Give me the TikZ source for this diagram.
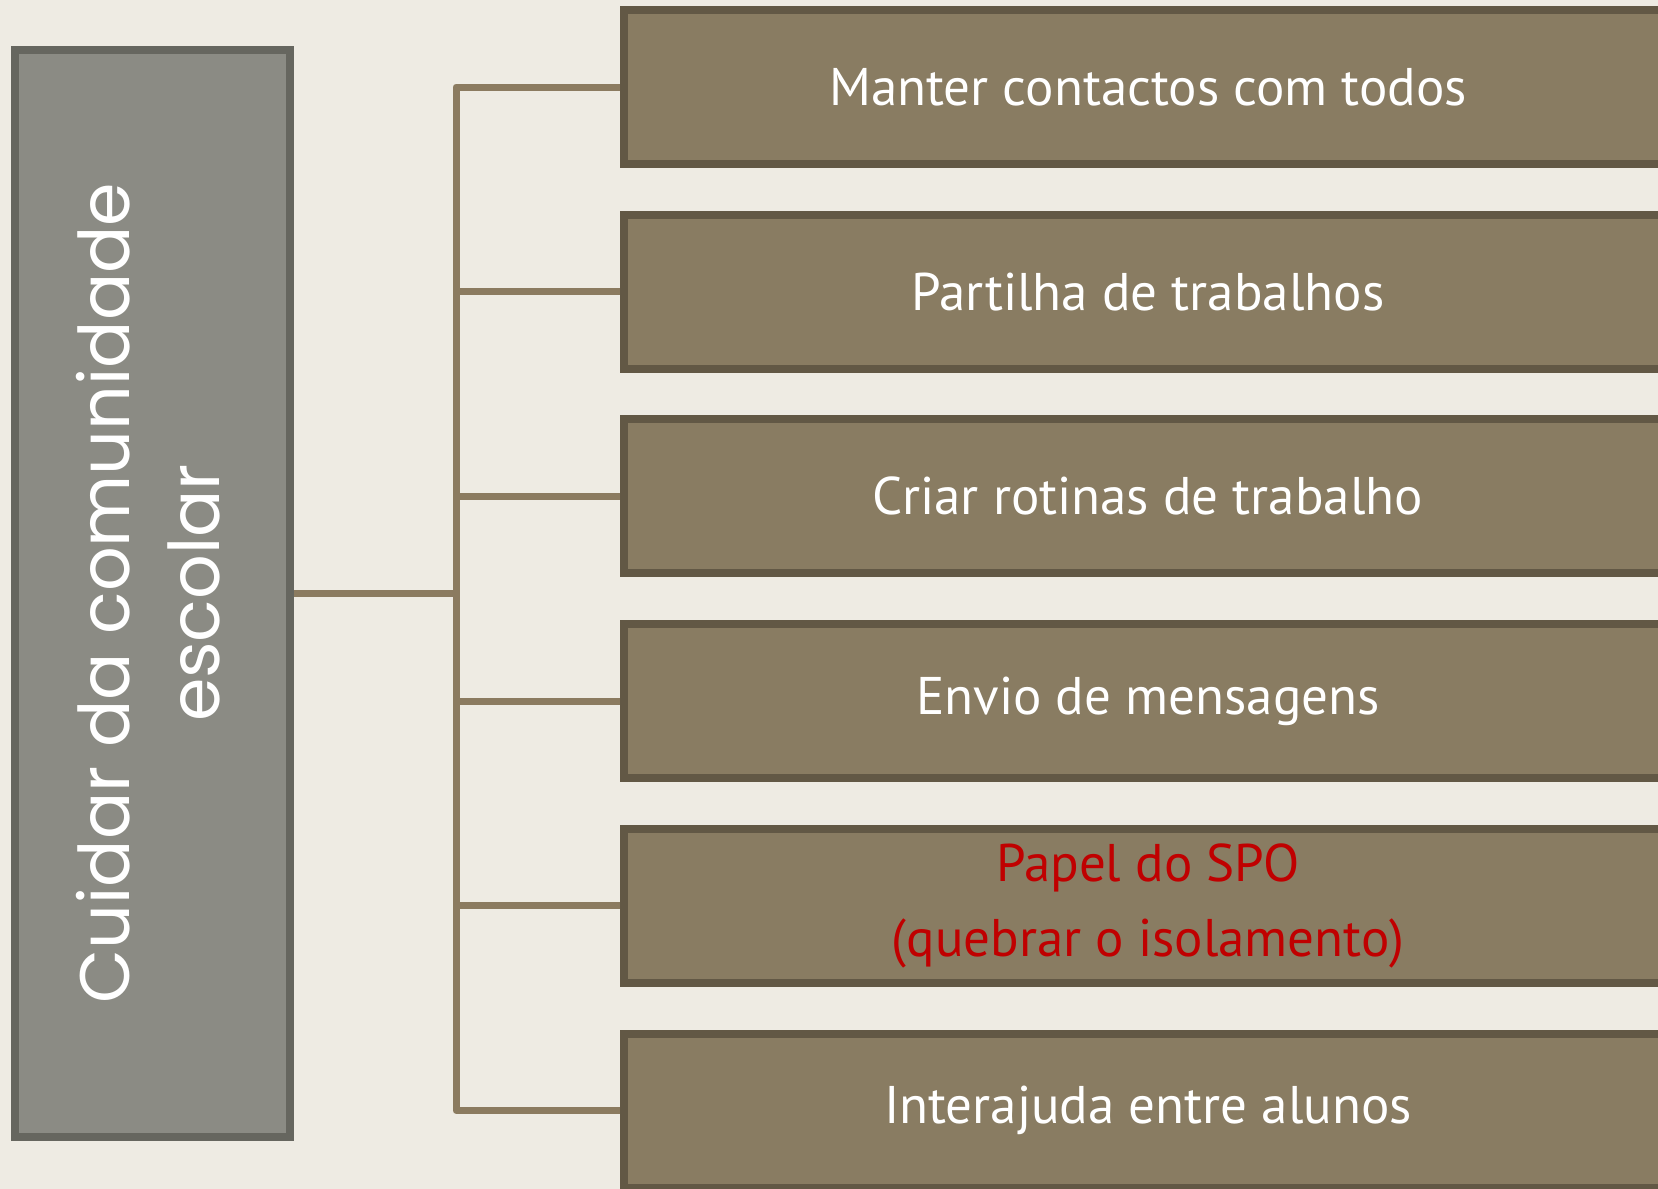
\documentclass[tikz,border=0pt]{standalone}
\usepackage{fontspec}
\setmainfont{PT Sans}
\newfontfamily\topicfont{Poppins}
\usetikzlibrary{positioning}
\definecolor{paper}{HTML}{EEEBE3}
\definecolor{topicfill}{HTML}{8B8B84}
\definecolor{topicline}{HTML}{66665F}
\definecolor{itemfill}{HTML}{897C62}
\definecolor{itemline}{HTML}{625845}
\definecolor{linkcol}{HTML}{8B7B60}
\definecolor{spored}{HTML}{C00000}
\tikzset{
	tree/.style={x=1pt,y=-1pt,node distance=42.7pt},
	topic/.style={rectangle,draw=topicline,fill=topicfill,line width=8pt,
		minimum width=275pt,minimum height=1087pt,inner sep=0pt,text=white,
		font=\topicfont\fontsize{70}{90}\selectfont},
	item/.style={rectangle,draw=itemline,fill=itemfill,line width=8pt,
		minimum width=1048pt,minimum height=154pt,inner sep=0pt,text=white,
		align=center,font=\fontsize{53}{75}\selectfont},
	link/.style={draw=linkcol,line width=7pt,line join=round}
}
\begin{document}
\begin{tikzpicture}[tree]
	\useasboundingbox (0,0) rectangle (1658,1189);
	\fill[paper] (0,0) rectangle (1658,1189);
	\clip (0,0) rectangle (1658,1189);
	
	\node[topic] (topic) at (152,593) {\hspace*{8pt}\rotatebox{90}{\begin{tabular}{@{}c@{}}Cuidar da comunidade\\escolar\end{tabular}}};
	\coordinate (spine) at (456,593);
	
	\node[item] (b1) at (1148,87) {Manter contactos com todos};
	\node[item] (b2) [below= of b1] {Partilha de trabalhos};
	\node[item] (b3) [below= of b2] {Criar rotinas de trabalho};
	\node[item] (b4) [below= of b3] {Envio de mensagens};
	\node[item, text=spored] (b5) [below= of b4] {Papel do SPO\\(quebrar o isolamento)};
	\node[item] (b6) [below= of b5] {Interajuda entre alunos};
	
	\path[link] (topic.east) -- (spine);
	\foreach \i in {1,...,6}
		\path[link] (b\i.west) -| (spine);
	
\end{tikzpicture}
\end{document}
